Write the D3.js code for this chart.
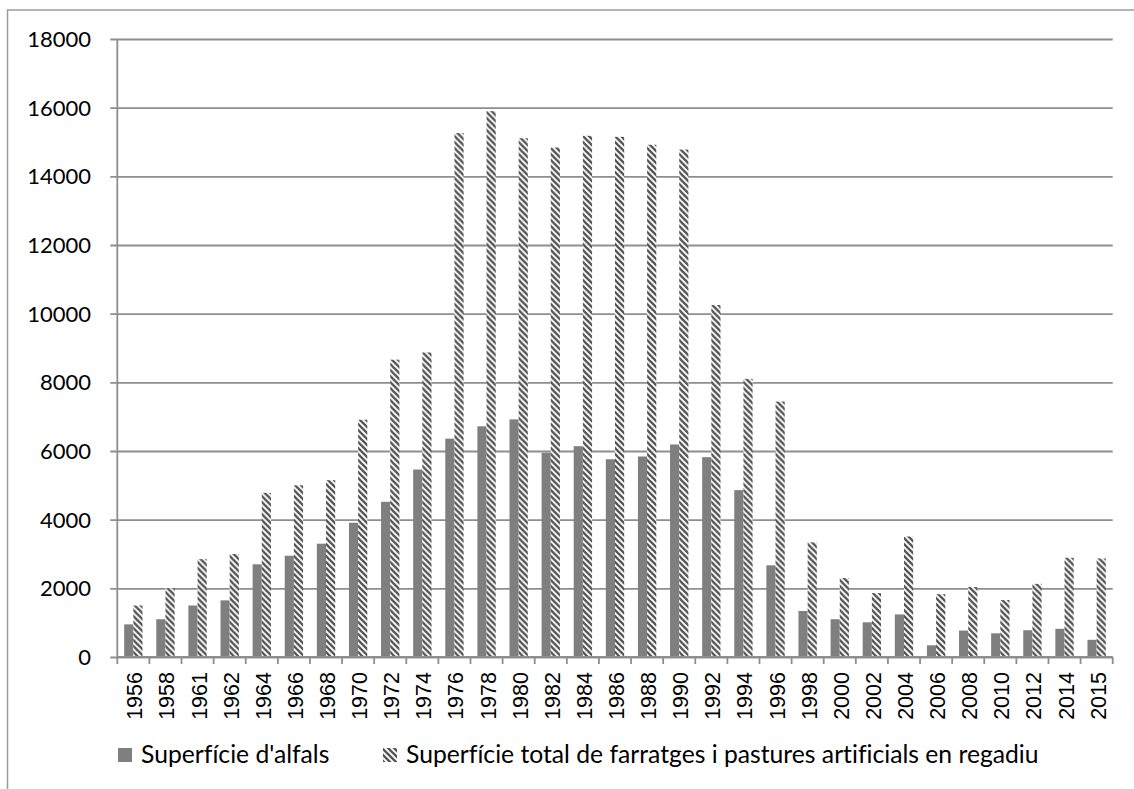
<!DOCTYPE html>
<html>
<head>
<meta charset="utf-8">
<script src="https://cdn.jsdelivr.net/npm/d3@7/dist/d3.min.js"></script>
<style>
  html, body { margin: 0; padding: 0; background: #fff; }
  svg { display: block; }
  text { font-variant-ligatures: none; font-feature-settings: "liga" 0; }
</style>
</head>
<body>
<svg id="chart" width="1134" height="789"></svg>
<script>
// Years shown on the category axis
const years = ["1956","1958","1961","1962","1964","1966","1968","1970","1972","1974",
  "1976","1978","1980","1982","1984","1986","1988","1990","1992","1994",
  "1996","1998","2000","2002","2004","2006","2008","2010","2012","2014","2015"];

// Alfalfa area (ha)
const alfals = [950,1100,1500,1650,2700,2950,3300,3910,4520,5460,
  6360,6720,6920,5950,6140,5760,5840,6190,5820,4860,
  2670,1340,1100,1010,1240,340,770,690,780,820,500];

// Total irrigated forage and artificial pasture area (ha)
const farratges = [1500,2000,2850,3000,4780,5000,5150,6910,8660,8870,
  15260,15900,15110,14840,15180,15150,14920,14780,10250,8100,
  7440,3340,2300,1860,3510,1830,2040,1660,2130,2890,2870];

const seriesNames = ["Superfície d'alfals",
  "Superfície total de farratges i pastures artificials en regadiu"];

const yTicks = [0,2000,4000,6000,8000,10000,12000,14000,16000,18000];

const svg = d3.select("#chart");
const W = 1134, H = 789;
const plot = { left: 117.3, right: 1112.7, top: 39, bottom: 657 };
const gridColor = "#8e8e8e";
const solidColor = "#7f7f7f";
const hatchColor = "#555555";

svg.append("rect").attr("width", W).attr("height", H).attr("fill", "#fff");

// Hatch pattern: wide downward diagonal stripes
const defs = svg.append("defs");
const pat = defs.append("pattern")
  .attr("id", "hatch")
  .attr("patternUnits", "userSpaceOnUse")
  .attr("width", 6).attr("height", 6);
pat.append("rect").attr("width", 6).attr("height", 6).attr("fill", "#fff");
pat.append("path")
  .attr("d", "M-1.5,4.5 L1.5,7.5 M0,0 L6,6 M4.5,-1.5 L7.5,1.5")
  .attr("stroke", hatchColor)
  .attr("stroke-width", 2.3)
  .attr("stroke-linecap", "square");

// Outer chart frame
svg.append("rect")
  .attr("x", 7.5).attr("y", 10)
  .attr("width", 1300).attr("height", 1000)
  .attr("fill", "none")
  .attr("stroke", "#9c9c9c")
  .attr("stroke-width", 1.5);

const x0 = d3.scaleBand().domain(years).range([plot.left, plot.right]).padding(0);
const x1 = d3.scaleBand().domain([0, 1]).range([0, x0.bandwidth()])
  .paddingInner(0).paddingOuter(0.75);
const y = d3.scaleLinear().domain([0, 18000]).range([plot.bottom, plot.top]);

// Horizontal gridlines with outward ticks on the value axis
const yAxis = d3.axisLeft(y).tickValues(yTicks).tickSize(-(plot.right - plot.left)).tickSizeOuter(0).tickPadding(0).tickFormat("");
const gy = svg.append("g").attr("transform", `translate(${plot.left},0)`).call(yAxis);
gy.select(".domain").remove();
gy.selectAll(".tick line")
  .attr("x1", -7)
  .attr("stroke", gridColor)
  .attr("stroke-width", 1.8);

// Value axis labels
svg.append("g").selectAll("text")
  .data(yTicks)
  .join("text")
  .attr("x", 91)
  .attr("y", d => y(d))
  .attr("dy", "0.36em")
  .attr("text-anchor", "end")
  .attr("font-family", "Lato, 'Open Sans', sans-serif")
  .attr("font-size", 22)
  .attr("fill", "#000")
  .text(d => d);

// Bars
const groups = svg.append("g").selectAll("g")
  .data(years)
  .join("g")
  .attr("transform", d => `translate(${x0(d)},0)`);

groups.append("rect")
  .attr("x", x1(0))
  .attr("width", x1.bandwidth())
  .attr("y", (d, i) => y(alfals[i]))
  .attr("height", (d, i) => y(0) - y(alfals[i]))
  .attr("fill", solidColor);

groups.append("rect")
  .attr("x", x1(1))
  .attr("width", x1.bandwidth())
  .attr("y", (d, i) => y(farratges[i]))
  .attr("height", (d, i) => y(0) - y(farratges[i]))
  .attr("fill", "url(#hatch)");

// Value axis line
svg.append("line")
  .attr("x1", plot.left).attr("x2", plot.left)
  .attr("y1", plot.top).attr("y2", plot.bottom)
  .attr("stroke", gridColor).attr("stroke-width", 1.8);

// Category axis: line, boundary ticks and rotated year labels
const boundaries = years.map(d => x0(d)).concat([plot.right]);
svg.append("line")
  .attr("x1", plot.left).attr("x2", plot.right)
  .attr("y1", plot.bottom).attr("y2", plot.bottom)
  .attr("stroke", gridColor).attr("stroke-width", 1.8);
svg.append("g").selectAll("line")
  .data(boundaries)
  .join("line")
  .attr("x1", d => d).attr("x2", d => d)
  .attr("y1", plot.bottom).attr("y2", plot.bottom + 7)
  .attr("stroke", gridColor).attr("stroke-width", 1.8);

svg.append("g").selectAll("text")
  .data(years)
  .join("text")
  .attr("transform", d => `translate(${x0(d) + x0.bandwidth() / 2},672) rotate(-90)`)
  .attr("dy", "0.42em")
  .attr("text-anchor", "end")
  .attr("font-family", "'Liberation Sans Narrow', 'Liberation Sans', Arial, sans-serif")
  .attr("font-size", 21.5)
  .attr("fill", "#000")
  .text(d => d);

// Legend
const legend = svg.append("g");
const legendItems = [
  { name: seriesNames[0], fill: solidColor, x: 118 },
  { name: seriesNames[1], fill: "url(#hatch)", x: 383 }
];
legendItems.forEach(item => {
  legend.append("rect")
    .attr("x", item.x).attr("y", 748)
    .attr("width", 14).attr("height", 14)
    .attr("fill", item.fill);
  legend.append("text")
    .attr("x", item.x + 23).attr("y", 763)
    .attr("font-family", "Lato, 'Open Sans', sans-serif")
    .attr("font-size", 24.7)
    .attr("fill", "#000")
    .text(item.name);
});
</script>
</body>
</html>
